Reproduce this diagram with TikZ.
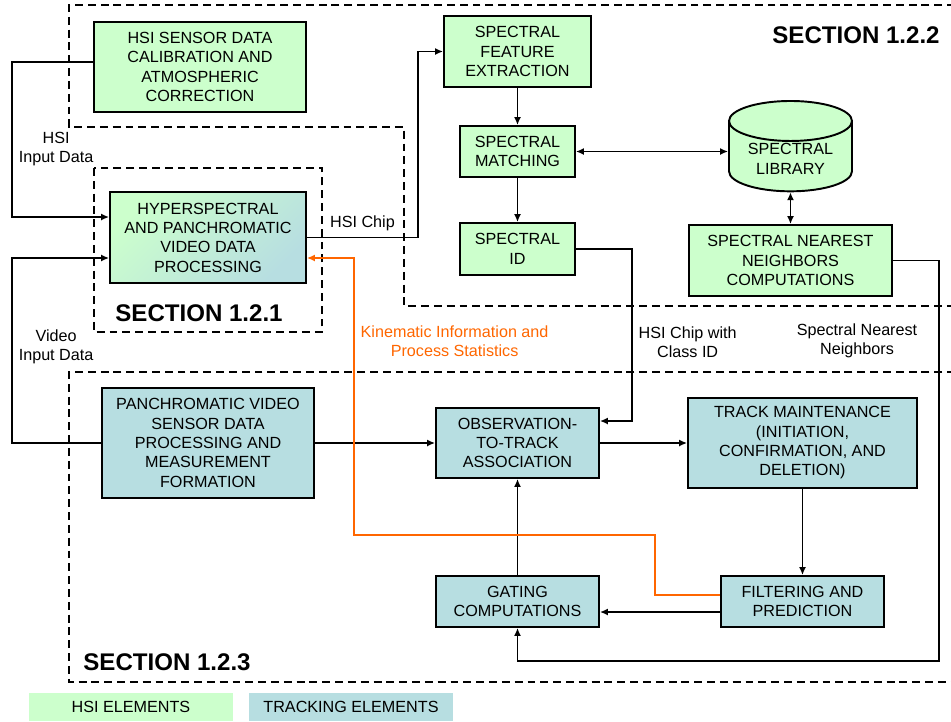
\documentclass[tikz,border=0pt]{standalone}
\usepackage{fontspec}
\setmainfont{Liberation Sans}
\usetikzlibrary{arrows.meta,shapes.geometric}

\definecolor{hsigreen}{RGB}{204,255,204}
\definecolor{trackblue}{RGB}{183,222,225}
\definecolor{kinorange}{RGB}{255,102,0}
\newcommand{\boxfont}{\fontsize{9.2}{11}\selectfont}

\tikzset{
    box/.style={draw, line width=1.1pt, align=center, inner sep=1pt, font=\boxfont},
    hsibox/.style={box, fill=hsigreen},
    trkbox/.style={box, fill=trackblue},
    lbl/.style={align=center, font=\boxfont},
    seclabel/.style={font=\bfseries\fontsize{13.7}{16}\selectfont},
    secline/.style={line width=1.1pt, dash pattern=on 4.5pt off 2.8pt},
    legend/.style={align=center, font=\boxfont, minimum width=4.08cm, minimum height=0.56cm, inner sep=0pt},
    kin/.style={draw=kinorange, line width=0.9pt}
}

\begin{document}
\begin{tikzpicture}[x=0.02cm, y=-0.02cm, >={Latex[length=4.5pt,width=4pt]}, line width=1pt]
    \useasboundingbox (0,0) rectangle (951,721);

    % section outlines
    \draw[secline] (955,5) -- (69,5) -- (69,127) -- (404,127) -- (404,306) -- (955,306);
    \draw[secline] (94,168) rectangle (322,332);
    \draw[secline] (955,372) -- (69,372) -- (69,682) -- (955,682);
    \node[seclabel] (sec2) at (856,35) {SECTION 1.2.2};
    \node[seclabel] (sec1) at (199,313) {SECTION 1.2.1};
    \node[seclabel] (sec3) at (167,662) {SECTION 1.2.3};

    % HSI elements
    \node[hsibox, minimum width=4.24cm, minimum height=1.8cm] (calib) at (200,67) {HSI SENSOR DATA\\CALIBRATION AND\\ATMOSPHERIC\\CORRECTION};
    \node[box, top color=hsigreen, bottom color=trackblue, shading angle=45, minimum width=3.92cm, minimum height=1.82cm] (hyper) at (208,237.5) {HYPERSPECTRAL\\AND PANCHROMATIC\\VIDEO DATA\\PROCESSING};
    \node[hsibox, minimum width=2.94cm, minimum height=1.42cm] (feat) at (517.5,51.5) {SPECTRAL\\FEATURE\\EXTRACTION};
    \node[hsibox, minimum width=2.3cm, minimum height=1.02cm] (match) at (517.5,151.5) {SPECTRAL\\MATCHING};
    \node[hsibox, minimum width=2.3cm, minimum height=1.04cm] (sid) at (517.5,249) {SPECTRAL\\ID};
    \node[hsibox, cylinder, shape border rotate=90, aspect=0.45, minimum width=2.46cm, minimum height=1.72cm] (lib) at (790.5,159) {SPECTRAL\\LIBRARY};
    \node[hsibox, minimum width=4.06cm, minimum height=1.42cm] (snn) at (790.5,260.5) {SPECTRAL NEAREST\\NEIGHBORS\\COMPUTATIONS};

    % tracking elements
    \node[trkbox, minimum width=4.24cm, minimum height=2.2cm] (panchro) at (208,443) {PANCHROMATIC VIDEO\\SENSOR DATA\\PROCESSING AND\\MEASUREMENT\\FORMATION};
    \node[trkbox, minimum width=3.26cm, minimum height=1.4cm] (obs) at (517.5,443) {OBSERVATION-\\TO-TRACK\\ASSOCIATION};
    \node[trkbox, minimum width=4.58cm, minimum height=1.8cm] (track) at (802.5,443) {TRACK MAINTENANCE\\(INITIATION,\\CONFIRMATION, AND\\DELETION)};
    \node[trkbox, minimum width=3.26cm, minimum height=1.02cm] (gate) at (517.5,601.5) {GATING\\COMPUTATIONS};
    \node[trkbox, minimum width=3.26cm, minimum height=1.02cm] (filt) at (802.5,601.5) {FILTERING AND\\PREDICTION};

    % connectors
    \draw[->] ([yshift=0.1cm]calib.west) -- ++(-81,0) |- node[pos=0.28, right, lbl] {HSI\\Input Data} ([yshift=0.41cm]hyper.west);
    \draw[->] (panchro.west) -- ++(-89,0) |- node[pos=0.26, right, lbl] {Video\\Input Data} ([yshift=-0.41cm]hyper.west);
    \draw[->] (hyper.east) -- node[above, lbl] {HSI Chip} ++(111,0) |- (feat.west);
    \draw[->] (feat) -- (match);
    \draw[->] (match) -- (sid);
    \draw[<->] (match.east) -- (match.east -| lib.west);
    \draw[<->] (lib.south) -- (snn.north);
    \draw[->] (sid.east) -- ++(56,0) |- node[pos=0.27, right, lbl] {HSI Chip with\\Class ID} ([yshift=0.44cm]obs.east);
    \draw[->] (snn.east) -- ++(46,0) -- node[pos=0.2, left=0.3cm, lbl] {Spectral Nearest\\Neighbors} ++(0,400.5) -| (gate.south);
    \draw[->] (panchro) -- (obs);
    \draw[->] (obs) -- (track);
    \draw[->] (track) -- (filt);
    \draw[->] ([yshift=-0.21cm]filt.west) -- ([yshift=-0.21cm]gate.east);
    \draw[->] (gate) -- (obs);
    \draw[kin, ->] ([yshift=0.13cm]filt.west) -- ++(-65,0) -- ++(0,-60) -- ++(-301,0) |- node[pos=0.35, right, lbl, text=kinorange] {Kinematic Information and\\Process Statistics} ([yshift=-0.41cm]hyper.east);

    % legend
    \node[legend, fill=hsigreen] (leghsi) at (131,707) {HSI ELEMENTS};
    \node[legend, fill=trackblue] (legtrk) at (351,707) {TRACKING ELEMENTS};
\end{tikzpicture}
\end{document}
